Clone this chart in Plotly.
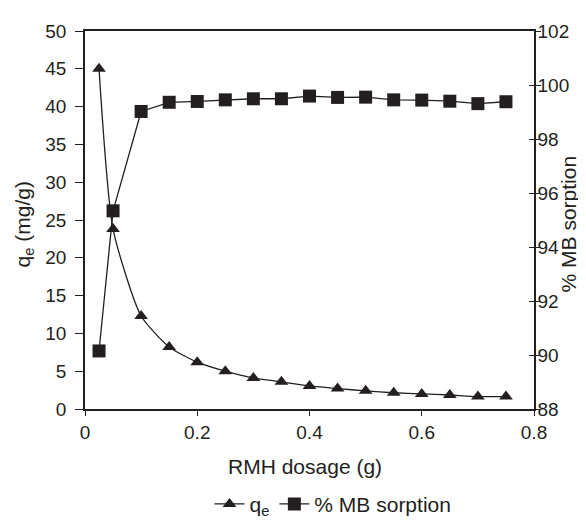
import plotly.graph_objects as go

dosage = [0.025, 0.05, 0.1, 0.15, 0.2, 0.25, 0.3, 0.35, 0.4, 0.45, 0.5, 0.55, 0.6, 0.65, 0.7, 0.75]
qe = [45.0, 23.8, 12.3, 8.2, 6.2, 5.0, 4.1, 3.6, 3.05, 2.7, 2.4, 2.15, 2.0, 1.85, 1.65, 1.65]
sorption = [90.15, 95.34, 99.02, 99.36, 99.39, 99.45, 99.49, 99.49, 99.59, 99.54, 99.55, 99.45, 99.44, 99.40, 99.31, 99.38]
x_ticks = [0, 0.2, 0.4, 0.6, 0.8]
x_labels = ["0", "0.2", "0.4", "0.6", "0.8"]

ink = "#231f20"
tickfont = dict(family="Liberation Sans, Arial, sans-serif", size=19, color=ink)
titlefont = dict(family="Liberation Sans, Arial, sans-serif", size=21, color=ink)

fig = go.Figure()
fig.add_trace(go.Scatter(
    x=dosage, y=qe, name="q<sub>e</sub>", mode="lines+markers",
    line=dict(color=ink, width=1.3, shape="spline", smoothing=0.6),
    marker=dict(symbol="triangle-up", size=12, color=ink),
))
fig.add_trace(go.Scatter(
    x=dosage, y=sorption, name="% MB sorption", mode="lines+markers", yaxis="y2",
    line=dict(color=ink, width=1.3),
    marker=dict(symbol="square", size=13, color=ink),
))
# helper trace for inner half of the crossing ticks on the right axis
fig.add_trace(go.Scatter(x=[dosage[0]], y=[sorption[0]], yaxis="y3", mode="markers",
                         marker=dict(opacity=0), showlegend=False, hoverinfo="skip"))

axis_common = dict(showgrid=False, zeroline=False, showline=True, linecolor=ink, linewidth=1.5,
                   ticks="outside", tickcolor=ink, tickwidth=1.2, tickfont=tickfont, automargin=False)

W, H = 586, 529
ml, mr, mt, mb = 77, 60, 23, 121
pw = W - ml - mr
ph = H - mt - mb

def px_x(px):
    return (px - ml) / pw

def px_y(py):
    return (H - mb - py) / ph

fig.update_layout(
    width=W, height=H,
    margin=dict(l=ml, r=mr, t=mt, b=mb),
    paper_bgcolor="white", plot_bgcolor="white",
    font=tickfont,
    showlegend=True,
    legend=dict(orientation="h", x=px_x(325), xanchor="center", y=px_y(505), yanchor="middle",
                font=titlefont, tracegroupgap=0, itemwidth=30),
    xaxis=dict(range=[0, 0.8], tickvals=x_ticks, ticktext=x_labels, mirror=True, ticklen=5,
               **axis_common),
    yaxis=dict(range=[0, 50], dtick=5, mirror=False, ticklen=8, ticklabelstandoff=5, **axis_common),
    yaxis2=dict(range=[88, 102], dtick=2, overlaying="y", side="right", ticklen=5,
                ticklabelstandoff=-7, **axis_common),
    yaxis3=dict(range=[88, 102], dtick=2, overlaying="y", side="right", ticks="inside", ticklen=5,
                tickcolor=ink, tickwidth=1.2, showticklabels=False, showgrid=False, zeroline=False,
                showline=False),
    annotations=[
        dict(text="RMH dosage (g)", x=px_x(297), y=px_y(467), xref="paper", yref="paper",
             showarrow=False, font=titlefont, xanchor="center", yanchor="middle"),
        dict(text="q<sub>e</sub> (mg/g)", x=px_x(16), y=px_y(220), xref="paper", yref="paper",
             showarrow=False, font=titlefont, textangle=-90, xanchor="center", yanchor="middle"),
        dict(text="% MB sorption", x=px_x(560), y=px_y(220), xref="paper", yref="paper",
             showarrow=False, font=titlefont, textangle=-90, xanchor="center", yanchor="middle"),
    ],
)

fig.write_html("out.html")
